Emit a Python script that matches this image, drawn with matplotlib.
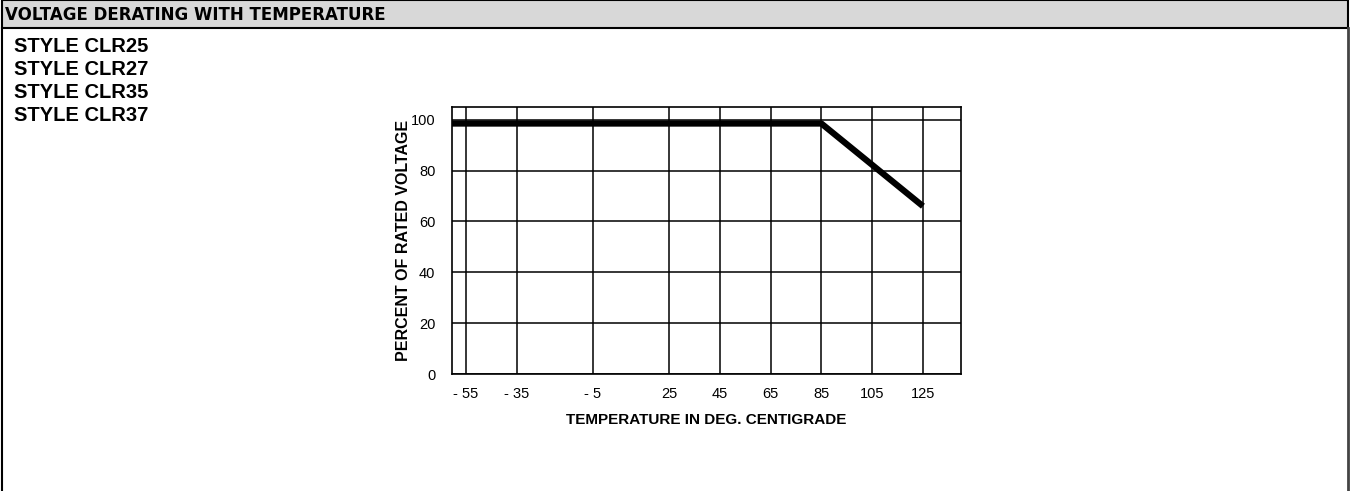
import matplotlib.pyplot as plt
from matplotlib.patches import Rectangle

# derating curve (temperature in deg C, percent of rated voltage)
temp = [-60.5, 85, 125]
percent = [98.5, 98.5, 66]

x_ticks = [-55, -35, -5, 25, 45, 65, 85, 105, 125]
x_labels = ['- 55', '- 35', '- 5', '25', '45', '65', '85', '105', '125']
y_ticks = [0, 20, 40, 60, 80, 100]

styles = ['STYLE CLR25', 'STYLE CLR27', 'STYLE CLR35', 'STYLE CLR37']

fig = plt.figure(figsize=(13.5, 4.91), dpi=100)
W, H = 1350, 491


def fx(px):
    return px / W


def fy(py):
    return 1 - py / H


# title bar with outer frame
fig.patches.append(Rectangle((fx(2), fy(28)), fx(1346), 28 / H, transform=fig.transFigure,
                             facecolor='#d8d8d8', edgecolor='black', linewidth=1.5))
fig.add_artist(plt.Line2D([fx(2), fx(2)], [fy(28), 0], transform=fig.transFigure,
                          color='black', linewidth=1.5))
fig.add_artist(plt.Line2D([fx(1348), fx(1348)], [fy(28), 0], transform=fig.transFigure,
                          color='#444444', linewidth=2))
fig.text(fx(5), fy(15), 'VOLTAGE DERATING WITH TEMPERATURE', fontsize=12,
         fontweight='heavy', family='DejaVu Sans', va='center', ha='left')

for i, s in enumerate(styles):
    fig.text(fx(14), fy(46 + i * 23.3), s, fontsize=14.5, fontweight='bold',
             family='Liberation Sans', va='center', ha='left')

ax = fig.add_axes([fx(452), fy(374), fx(961) - fx(452), (374 - 107) / H])
ax.plot(temp, percent, color='black', linewidth=4.5, solid_capstyle='butt', zorder=3)
ax.set_xlim(-60.5, 140)
ax.set_ylim(0, 105)
ax.set_xticks(x_ticks)
ax.set_xticklabels(x_labels)
ax.set_yticks(y_ticks)
ax.grid(True, color='black', linewidth=1.1)
ax.tick_params(axis='x', length=0, labelsize=10.5, pad=9)
ax.tick_params(axis='y', length=0, labelsize=10.5, pad=12)
for lab in ax.get_xticklabels() + ax.get_yticklabels():
    lab.set_family('Liberation Sans')
for sp in ax.spines.values():
    sp.set_linewidth(1.2)
ax.set_xlabel('TEMPERATURE IN DEG. CENTIGRADE', fontsize=11, fontweight='bold',
              family='Liberation Sans', labelpad=9)
ax.set_ylabel('PERCENT OF RATED VOLTAGE', fontsize=11.5, fontweight='bold',
              family='Liberation Sans', labelpad=0)

fig.savefig('out.png', dpi=100)
